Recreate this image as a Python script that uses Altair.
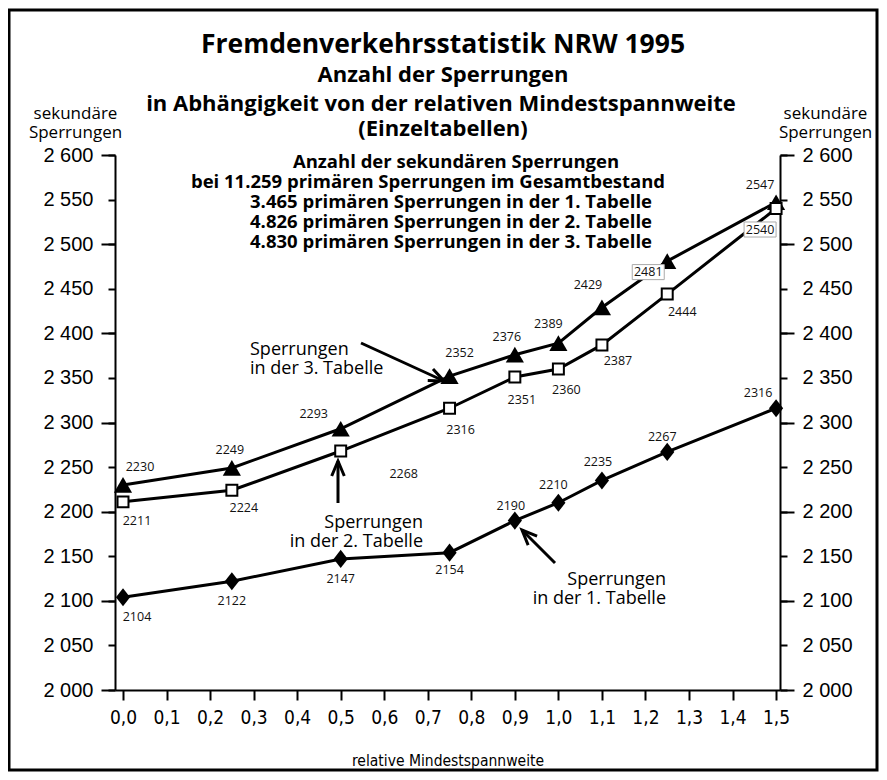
import altair as alt
import pandas as pd

# ---------------- data ----------------
x_vals = [0.0, 0.25, 0.5, 0.75, 0.9, 1.0, 1.1, 1.25, 1.5]
tab3 = [2230, 2249, 2293, 2352, 2376, 2389, 2429, 2481, 2547]
tab2 = [2211, 2224, 2268, 2316, 2351, 2360, 2387, 2444, 2540]
tab1 = [2104, 2122, 2147, 2154, 2190, 2210, 2235, 2267, 2316]

# label offsets in pixels (styling, not data)
off3_dx = [17, -2, -27, 10, -8, -10, -14, -19, -16]
off3_dy = [-18, -18, -15, -23, -18, -19, -22, 11, -17]
off2_dx = [14, 12, 63, 11, 7, 8, 16, 15, -16]
off2_dy = [19, 18, 23, 22, 23, 21, 16, 18, 21]
off1_dx = [14, 0, 0, 0, -4, -5, -4, -5, -18]
off1_dy = [20, 20, 20, 17, -15, -18, -18, -15, -15]
boxed3 = [False] * 7 + [True] + [False]
boxed2 = [False] * 8 + [True]
boxed1 = [False] * 9

y_ticks = list(range(2000, 2601, 50))
y_major = list(range(2000, 2601, 100))
x_ticks = [round(i * 0.1, 1) for i in range(16)]

rows = []
for name, ys, dxs, dys, bx in [
    ("T3", tab3, off3_dx, off3_dy, boxed3),
    ("T2", tab2, off2_dx, off2_dy, boxed2),
    ("T1", tab1, off1_dx, off1_dy, boxed1),
]:
    for xv, yv, dx, dy, b in zip(x_vals, ys, dxs, dys, bx):
        rows.append({"series": name, "x": xv, "y": yv, "dx": dx, "dy": dy, "boxed": b})
df = pd.DataFrame(rows)

W, H = 665, 535
XMIN, XMAX = -0.0184, 1.509
YMIN, YMAX = 2000, 2600
PX_X = W / (XMAX - XMIN)
PX_Y = H / (YMAX - YMIN)

TEXT_FONT = "Open Sans"
NUM_FONT = "Liberation Sans"
NARROW = "Liberation Sans Narrow, DejaVu Sans Condensed, Liberation Sans"

xscale = alt.Scale(domain=[XMIN, XMAX], nice=False, zero=False)
yscale = alt.Scale(domain=[YMIN, YMAX], nice=False, zero=False)

xaxis = alt.Axis(
    values=x_ticks,
    labelExpr="replace(format(datum.value, '.1f'), '.', ',')",
    tickSize=10, tickWidth=2, tickColor="black",
    domainWidth=2, domainColor="black",
    labelFont=NARROW, labelFontSize=19, labelColor="black", labelPadding=8,
    labelFlush=False, labelOverlap=False,
    title="relative Mindestspannweite", titleFont=NARROW, titleFontSize=15.5,
    titleFontWeight="normal", titleColor="black", titlePadding=26,
    grid=False,
)
X = alt.X("x:Q", scale=xscale, axis=xaxis)
XL = alt.X("lx:Q", scale=xscale, axis=xaxis)

ylabel_expr = "replace(format(datum.value, ','), ',', ' ')"


def yaxis_labels(orient, title_x):
    return alt.Axis(
        orient=orient, values=y_ticks, labelExpr=ylabel_expr,
        tickSize=7, tickWidth=2, tickColor="black",
        domainWidth=2, domainColor="black",
        labelFont=NUM_FONT, labelFontSize=20, labelColor="black",
        labelPadding=15, labelFlush=False, labelOverlap=False, grid=False,
        title=["sekundäre", "Sperrungen"], titleAngle=0, titleAlign="center",
        titleBaseline="bottom", titleX=title_x, titleY=-33,
        titleFont=TEXT_FONT, titleFontSize=17, titleFontWeight="normal",
        titleColor="black", titleLineHeight=19,
    )


def yaxis_major(orient):
    return alt.Axis(
        orient=orient, values=y_major, labels=False, domain=False,
        tickSize=14, tickWidth=2, tickColor="black", grid=False, title=None,
    )


base = alt.Chart(df)
shifted = base.transform_calculate(
    lx=f"datum.x + datum.dx / {PX_X}",
    ly=f"datum.y - datum.dy / {PX_Y}",
)
YL = alt.Y("ly:Q", scale=yscale, axis=None)

lines = base.mark_line(color="black", strokeWidth=3).encode(
    x=X, y=alt.Y("y:Q", scale=yscale, axis=yaxis_labels("left", -40)),
    detail="series:N",
)

tri = base.transform_filter("datum.series == 'T3'").mark_point(
    shape="triangle-up", filled=True, color="black", size=330, opacity=1
).encode(x=X, y=alt.Y("y:Q", scale=yscale, axis=yaxis_labels("right", 45)))

sq = base.transform_filter("datum.series == 'T2'").mark_point(
    shape="square", filled=True, fill="white", stroke="black", strokeWidth=2,
    size=120, opacity=1
).encode(x=X, y=alt.Y("y:Q", scale=yscale, axis=yaxis_major("left")))

dia = base.transform_filter("datum.series == 'T1'").mark_point(
    shape="M0,-1L0.78,0L0,1L-0.78,0Z", filled=True, color="black", size=330,
    opacity=1
).encode(x=X, y=alt.Y("y:Q", scale=yscale, axis=yaxis_major("right")))

boxes = shifted.transform_filter("datum.boxed").mark_point(
    shape="M-1,-0.47H1V0.47H-1Z", filled=True, fill="white", stroke="#aaaaaa",
    strokeWidth=1, size=1024, opacity=1
).encode(x=XL, y=YL)

labels = shifted.mark_text(
    font=TEXT_FONT, fontSize=12.5, color="#111", baseline="middle", align="center"
).encode(x=XL, y=YL, text=alt.Text("y:Q", format="d"))

one = pd.DataFrame({"k": [0]})


def txt(text, x, y, size, weight="normal", align="center", font=TEXT_FONT, lh=None):
    kw = dict(font=font, fontSize=size, fontWeight=weight, align=align,
              baseline="middle", color="black")
    if lh is not None:
        kw["lineHeight"] = lh
    return alt.Chart(one).mark_text(**kw).encode(
        x=alt.value(x), y=alt.value(y), text=alt.value(text)
    )


def arrow(x1, y1, x2, y2, ang):
    rule = alt.Chart(one).mark_rule(color="black", strokeWidth=3).encode(
        x=alt.value(x1), y=alt.value(y1), x2=alt.value(x2), y2=alt.value(y2)
    )
    head = alt.Chart(one).mark_point(
        shape="M-1,-0.42L0,0L-1,0.42", filled=False, color="black",
        strokeWidth=3, size=900, angle=ang, opacity=1, strokeJoin="miter"
    ).encode(x=alt.value(x2), y=alt.value(y2))
    return rule + head


border = alt.Chart(one).mark_rect(
    fill="white", fillOpacity=0, stroke="black", strokeWidth=3
).encode(x=alt.value(-106), x2=alt.value(762), y=alt.value(-145), y2=alt.value(615))

titles = [
    txt("Fremdenverkehrsstatistik NRW 1995", 328, -110, 26.5, "bold"),
    txt("Anzahl der Sperrungen", 328, -80, 22, "bold"),
    txt("in Abhängigkeit von der relativen Mindestspannweite", 326, -51, 22, "bold"),
    txt("(Einzeltabellen)", 328, -26, 22, "bold"),
    txt("Anzahl der sekundären Sperrungen", 341, 7, 18.5, "bold"),
    txt("bei 11.259 primären Sperrungen im Gesamtbestand", 313, 27, 18.5, "bold"),
    txt("3.465 primären Sperrungen in der 1. Tabelle", 336, 47, 18.5, "bold"),
    txt("4.826 primären Sperrungen in der 2. Tabelle", 336, 67, 18.5, "bold"),
    txt("4.830 primären Sperrungen in der 3. Tabelle", 336, 87, 18.5, "bold"),
    txt(["Sperrungen", "in der 3. Tabelle"], 135, 195, 18, align="left", lh=19),
    txt(["Sperrungen", "in der 2. Tabelle"], 308, 368, 18, align="right", lh=19),
    txt(["Sperrungen", "in der 1. Tabelle"], 551, 425, 18, align="right", lh=19),
]

arrows = [
    arrow(246, 188, 329, 226, 24.6),
    arrow(223, 348, 223, 306, 270),
    arrow(440, 408, 407, 375, 225),
]

layers = [border, lines, tri, sq, dia, boxes, labels] + arrows + titles

chart = alt.layer(*layers).resolve_axis(y="independent").properties(
    width=W, height=H,
    autosize=alt.AutoSizeParams(type="none"),
    padding={"left": 107, "top": 147, "right": 99, "bottom": 82},
    background="white",
).configure_view(strokeWidth=0)

chart.save("out.html", embed_options={"renderer": "svg", "actions": False})
